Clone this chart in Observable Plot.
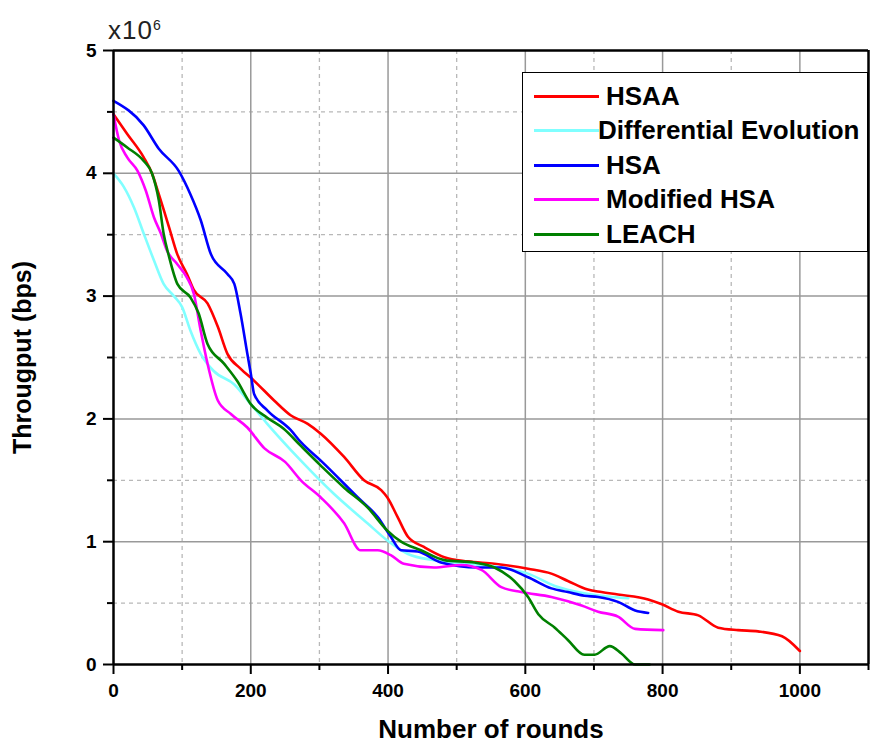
<!DOCTYPE html>
<html>
<head>
<meta charset="utf-8">
<script src="https://cdn.jsdelivr.net/npm/d3@7"></script>
<script src="https://cdn.jsdelivr.net/npm/@observablehq/plot@0.6"></script>
<style>
  html, body { margin: 0; padding: 0; background: #fff; }
  #wrap { position: relative; width: 870px; height: 749px; font-family: "Liberation Sans", Arial, sans-serif; }
  #wrap svg text { font-weight: bold; }
  #exp { position: absolute; left: 108px; top: 10px; font-size: 26px; color: #222; letter-spacing: 1px; line-height: 30px; }
  #exp sup { font-size: 14px; vertical-align: 9px; }
  #legend { position: absolute; left: 522px; top: 72px; width: 344px; height: 178px; border: 1.5px solid #000; background: #fff; }
  .row { position: absolute; left: 0; height: 30px; width: 344px; }
  .row .sw { position: absolute; left: 11px; top: 14px; width: 65px; height: 3px; }
  .row .lb { position: absolute; left: 83px; top: 0; font-size: 26px; font-weight: bold; line-height: 30px; color: #000; white-space: nowrap; }
</style>
</head>
<body>
<div id="wrap"></div>
<script>
// Series names and colours
const names = ["HSAA", "Differential Evolution", "HSA", "Modified HSA", "LEACH"];
const colors = ["#ff0000", "#80ffff", "#0000ff", "#ff00ff", "#008000"];

// HSAA (throughput in units of 10^6 bps)
const roundsHSAA = [0,20,44,56,66,81,93,107,117,137,152,166,185,205,234,258,283,302,336,365,390,399,414,429,453,482,516,555,604,638,662,691,711,735,779,799,823,852,881,910,939,974,1000];
const hsaa = [4.48,4.32,4.13,4.0,3.83,3.56,3.34,3.18,3.05,2.94,2.75,2.53,2.41,2.31,2.15,2.03,1.96,1.88,1.69,1.50,1.42,1.36,1.20,1.04,0.955,0.874,0.84,0.82,0.78,0.74,0.68,0.61,0.59,0.57,0.53,0.49,0.43,0.40,0.30,0.28,0.27,0.23,0.11];

// Differential Evolution
const roundsDE = [0,15,30,44,59,73,88,100,112,127,146,176,200,224,273,321,370,399,429,467,516,565,604,643,686,726,750];
const de = [4.0,3.89,3.72,3.51,3.29,3.10,3.0,2.91,2.72,2.53,2.39,2.28,2.12,1.96,1.66,1.39,1.15,1.01,0.90,0.85,0.82,0.79,0.74,0.64,0.58,0.55,0.54];

// HSA
const roundsHSA = [0,44,66,95,112,127,142,166,176,185,195,200,205,224,258,273,302,356,385,404,419,443,477,531,565,604,638,662,686,706,735,760,779];
const hsa = [4.59,4.39,4.20,4.02,3.83,3.62,3.34,3.18,3.10,2.86,2.53,2.37,2.20,2.07,1.91,1.81,1.66,1.36,1.20,1.04,0.93,0.92,0.83,0.79,0.79,0.71,0.62,0.59,0.56,0.55,0.51,0.44,0.42];

// Modified HSA
const roundsMHSA = [0,8,20,35,47,59,69,78,93,107,117,127,137,152,171,195,220,250,273,302,336,360,385,404,423,467,507,536,565,594,638,682,706,735,760,801];
const mhsa = [4.48,4.27,4.13,4.02,3.86,3.64,3.51,3.37,3.26,3.15,3.02,2.72,2.45,2.15,2.04,1.93,1.76,1.65,1.50,1.36,1.15,0.93,0.93,0.89,0.82,0.79,0.81,0.77,0.63,0.59,0.55,0.48,0.43,0.39,0.29,0.28];

// LEACH
const roundsLEACH = [0,20,44,56,66,73,81,93,112,124,137,161,180,200,224,248,273,302,336,370,399,419,448,482,526,555,584,604,619,643,662,686,701,723,740,760,781];
const leach = [4.29,4.21,4.10,4.0,3.78,3.51,3.32,3.10,2.99,2.86,2.61,2.45,2.31,2.12,2.01,1.92,1.78,1.62,1.44,1.28,1.09,1.00,0.93,0.85,0.83,0.79,0.68,0.55,0.41,0.30,0.20,0.08,0.08,0.15,0.09,0.0,0.0];

// Ticks
const xMajor = [0,200,400,600,800,1000];
const xMinor = [100,300,500,700,900,1100];
const yMajor = [0,1,2,3,4,5];
const yMinor = [0.5,1.5,2.5,3.5,4.5];

const seriesX = [roundsHSAA, roundsDE, roundsHSA, roundsMHSA, roundsLEACH];
const seriesY = [hsaa, de, hsa, mhsa, leach];
const rows = names.flatMap((n, i) => seriesX[i].map((x, j) => ({name: n, x, y: seriesY[i][j]})));

const plot = Plot.plot({
  width: 870,
  height: 749,
  marginLeft: 113,
  marginRight: 2,
  marginTop: 50,
  marginBottom: 85,
  style: {fontFamily: "'Liberation Sans', Arial, sans-serif", background: "white", color: "black"},
  x: {domain: [0, 1100]},
  y: {domain: [0, 5]},
  color: {domain: names, range: colors},
  marks: [
    Plot.ruleX(xMinor.filter(d => d < 1100), {stroke: "#b8b8b8", strokeWidth: 1.3, strokeDasharray: "4,4"}),
    Plot.ruleY(yMinor, {stroke: "#b8b8b8", strokeWidth: 1.3, strokeDasharray: "4,4"}),
    Plot.ruleX(xMajor.filter(d => d > 0), {stroke: "#999", strokeWidth: 1.5}),
    Plot.ruleY(yMajor.filter(d => d > 0 && d < 5), {stroke: "#999", strokeWidth: 1.5}),
    Plot.line(rows, {x: "x", y: "y", z: "name", stroke: "name", strokeWidth: 2.6, curve: "monotone-x"}),
    Plot.axisX(xMajor, {tickSize: 10, tickPadding: 9, fontSize: 19, label: null, strokeWidth: 2, tickFormat: d => String(d)}),
    Plot.axisX(xMinor, {tickSize: 6, text: null, label: null, strokeWidth: 2}),
    Plot.axisY(yMajor, {tickSize: 10, tickPadding: 7, fontSize: 19, label: null, strokeWidth: 2, tickFormat: d => String(d)}),
    Plot.axisY(yMinor, {tickSize: 6, text: null, label: null, strokeWidth: 2}),
    Plot.ruleX([0], {stroke: "black", strokeWidth: 2.5}),
    Plot.ruleX([1100], {stroke: "black", strokeWidth: 2.5}),
    Plot.ruleY([0], {stroke: "black", strokeWidth: 2.5}),
    Plot.ruleY([5], {stroke: "black", strokeWidth: 2.5}),
    Plot.text(["Number of rounds"], {frameAnchor: "bottom", dy: 73, fontSize: 26, fill: "black"}),
    Plot.text(["Througput (bps)"], {frameAnchor: "left", rotate: -90, dx: -91, textAnchor: "middle", fontSize: 25, fill: "black"})
  ]
});

const wrap = document.getElementById("wrap");
wrap.appendChild(plot);

const exp = document.createElement("div");
exp.id = "exp";
exp.innerHTML = "x10<sup>6</sup>";
wrap.appendChild(exp);

const legend = document.createElement("div");
legend.id = "legend";
const rowTops = [8, 42, 77, 111, 146];
const labelLeft = [83, 75, 83, 83, 83];
names.forEach((n, i) => {
  const r = document.createElement("div");
  r.className = "row";
  r.style.top = rowTops[i] + "px";
  const sw = document.createElement("div");
  sw.className = "sw";
  sw.style.background = colors[i];
  const lb = document.createElement("div");
  lb.className = "lb";
  lb.style.left = labelLeft[i] + "px";
  lb.textContent = n;
  r.appendChild(sw);
  r.appendChild(lb);
  legend.appendChild(r);
});
wrap.appendChild(legend);
</script>
</body>
</html>
